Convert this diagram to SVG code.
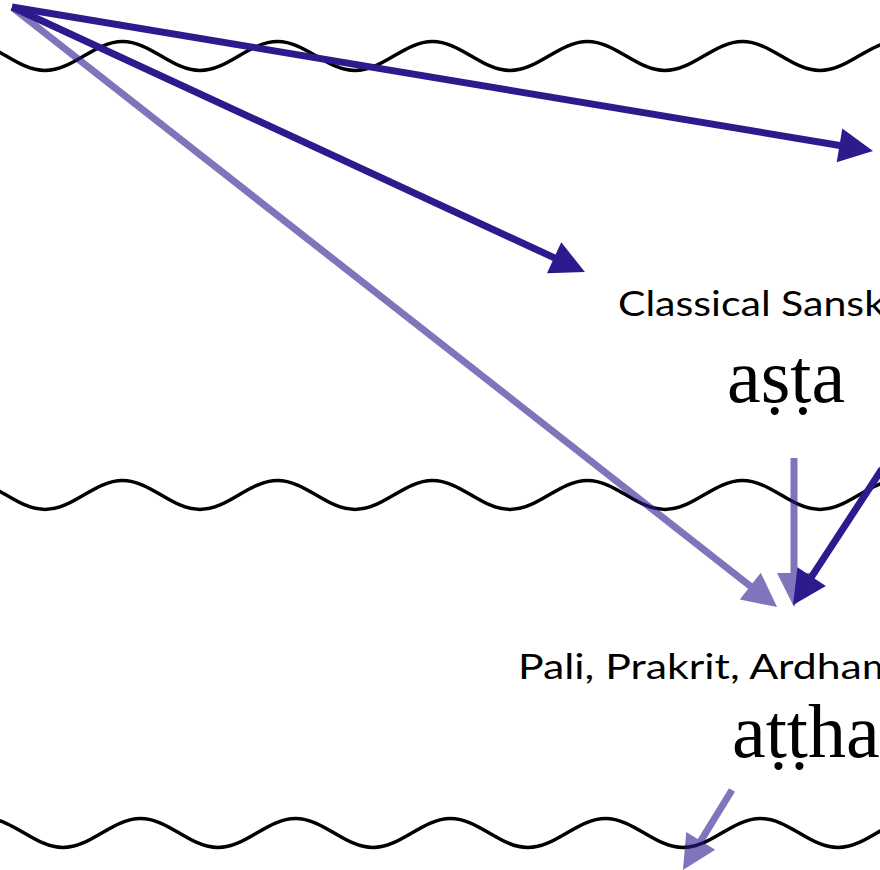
<svg xmlns="http://www.w3.org/2000/svg" width="880" height="870" viewBox="0 0 880 870">
  <style>
    .wave { fill: none; stroke: #000; stroke-width: 3.5; }
    .edge { fill: none; stroke: #2d1b8e; stroke-width: 7; stroke-linecap: butt; }
    .faint { opacity: 0.6; }
    .lang { font-family: Lato, "Open Sans", "Liberation Sans", sans-serif; font-size: 35px; fill: #000; }
    .word { font-family: "Liberation Serif", "DejaVu Serif", serif; font-size: 76px; fill: #000; }
  </style>
  <defs>
    <!-- boundary line: a cosine wave, period 155, centred on y=0 -->
    <path id="wavy" d="M -187.5 -14.5
      c 28.2 0 49.3 29 77.5 29 c 28.2 0 49.3 -29 77.5 -29
      c 28.2 0 49.3 29 77.5 29 c 28.2 0 49.3 -29 77.5 -29
      c 28.2 0 49.3 29 77.5 29 c 28.2 0 49.3 -29 77.5 -29
      c 28.2 0 49.3 29 77.5 29 c 28.2 0 49.3 -29 77.5 -29
      c 28.2 0 49.3 29 77.5 29 c 28.2 0 49.3 -29 77.5 -29
      c 28.2 0 49.3 29 77.5 29 c 28.2 0 49.3 -29 77.5 -29
      c 28.2 0 49.3 29 77.5 29 c 28.2 0 49.3 -29 77.5 -29
      c 28.2 0 49.3 29 77.5 29 c 28.2 0 49.3 -29 77.5 -29"/>
    <marker id="head" markerUnits="userSpaceOnUse" markerWidth="40" markerHeight="40"
            refX="14" refY="17" orient="auto" overflow="visible">
      <path d="M0,0 L34,17 L0,34 Z" fill="#2d1b8e"/>
    </marker>
  </defs>

  <!-- period boundaries -->
  <g id="boundaries">
    <use href="#wavy" class="wave" transform="translate(0,56)"/>
    <use href="#wavy" class="wave" transform="translate(0,495)"/>
    <use href="#wavy" class="wave" transform="translate(18,833)"/>
  </g>

  <g id="classical-sanskrit">
    <text class="lang" x="618" y="316" textLength="267" lengthAdjust="spacingAndGlyphs">Classical Sansk</text>
    <text class="word" x="727" y="402">aṣṭa</text>
  </g>

  <g id="pali-prakrit">
    <text class="lang" x="518" y="679" textLength="379" lengthAdjust="spacingAndGlyphs">Pali, Prakrit, Ardham</text>
    <text class="word" x="732" y="757">aṭṭha</text>
  </g>

  <g id="connectors">
    <line class="edge" x1="12" y1="7" x2="853.3" y2="147.7" marker-end="url(#head)"/>
    <line class="edge" x1="12" y1="7" x2="566.8" y2="263.6" marker-end="url(#head)"/>
    <line class="edge" x1="882" y1="469" x2="804" y2="588.3" marker-end="url(#head)"/>
    <g class="faint">
      <line class="edge" x1="13" y1="8" x2="761.3" y2="594.7" marker-end="url(#head)"/>
    </g>
    <g class="faint">
      <line class="edge" x1="794" y1="458" x2="794" y2="587" marker-end="url(#head)"/>
    </g>
    <g class="faint">
      <line class="edge" x1="732" y1="790" x2="693.4" y2="852.9" marker-end="url(#head)"/>
    </g>
  </g>
</svg>
